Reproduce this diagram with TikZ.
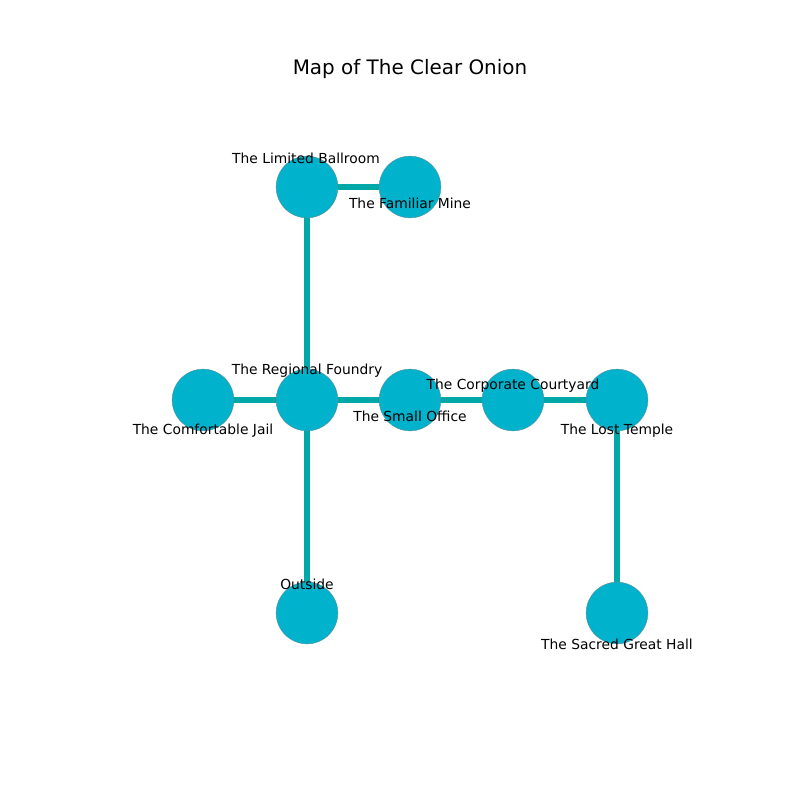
\documentclass[tikz,border=0pt]{standalone}
\usepackage{fontspec}
\setmainfont{DejaVu Sans}
\definecolor{roomfill}{HTML}{00B2CC}
\definecolor{roomedge}{HTML}{5A8F9A}
\definecolor{passage}{HTML}{00A8A8}

\begin{document}
\begin{tikzpicture}[x=0.254mm,y=-0.254mm,
		room/.style={circle,fill=roomfill,draw=roomedge,line width=0.3pt,minimum size=44.6pt,inner sep=0pt},
		passway/.style={passage,line width=3.8pt},
		lbl/.style={font=\fontsize{10}{12}\selectfont,inner sep=0pt}]
		\useasboundingbox (0,0) rectangle (800,800);
		\node[font=\fontsize{14.4}{17}\selectfont] (title) at (410,69) {Map of The Clear Onion};
		% rooms
		\coordinate (c1) at (307,187);
		\coordinate (c2) at (410,187);
		\coordinate (c3) at (307,400);
		\coordinate (c4) at (203,400);
		\coordinate (c5) at (410,400);
		\coordinate (c6) at (513,400);
		\coordinate (c7) at (617,400);
		\coordinate (c8) at (307,613);
		\coordinate (c9) at (617,613);
		\draw[passway]
		(c1) -- (c2) (c1) -- (c3)
		(c4) -- (c3) (c3) -- (c5) (c5) -- (c6) (c6) -- (c7)
		(c3) -- (c8) (c7) -- (c9)
		;
		\node[room] (ballroom) at (c1) {};
		\node[room] (mine) at (c2) {};
		\node[room] (foundry) at (c3) {};
		\node[room] (jail) at (c4) {};
		\node[room] (office) at (c5) {};
		\node[room] (courtyard) at (c6) {};
		\node[room] (temple) at (c7) {};
		\node[room] (outside) at (c8) {};
		\node[room] (hall) at (c9) {};
		% labels
		\node[lbl] (l1) at (306,158) {The Limited Ballroom};
		\node[lbl] (l2) at (410,203) {The Familiar Mine};
		\node[lbl] (l3) at (307,371) {The Regional Foundry};
		\node[lbl] (l4) at (203,431) {The Comfortable Jail};
		\node[lbl] (l5) at (410,416) {The Small Office};
		\node[lbl] (l6) at (513,386) {The Corporate Courtyard};
		\node[lbl] (l7) at (617,431) {The Lost Temple};
		\node[lbl] (l8) at (307,584) {Outside};
		\node[lbl] (l9) at (617,644) {The Sacred Great Hall};
	\end{tikzpicture}
\end{document}
